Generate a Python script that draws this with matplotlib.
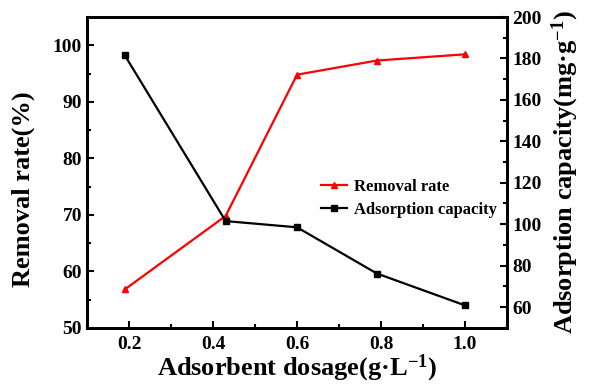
import matplotlib
matplotlib.use("Agg")
import matplotlib.pyplot as plt
from matplotlib.font_manager import FontProperties
from matplotlib.ticker import MultipleLocator

# adsorbent dosage (g/L)
dosage = [0.19, 0.43, 0.60, 0.79, 1.00]
removal_rate = [56.8, 69.8, 94.8, 97.3, 98.4]          # %
adsorption_capacity = [181.5, 101.5, 98.5, 76.2, 60.8]  # mg/g

plt.rcParams["font.family"] = ["Liberation Serif", "DejaVu Serif"]
plt.rcParams["font.weight"] = "bold"
plt.rcParams["axes.labelweight"] = "bold"
plt.rcParams["mathtext.fontset"] = "custom"
plt.rcParams["mathtext.rm"] = "Liberation Serif:bold"
plt.rcParams["mathtext.bf"] = "Liberation Serif:bold"
plt.rcParams["mathtext.default"] = "bf"

fig = plt.figure(figsize=(5.9, 3.87), dpi=100)
ax = fig.add_axes([0.1475, 0.153, 0.712, 0.803])
ax2 = ax.twinx()

l1, = ax.plot(dosage, removal_rate, color="#ff0000", lw=1.6, marker="^",
              markersize=5, label="Removal rate")
l2, = ax2.plot(dosage, adsorption_capacity, color="black", lw=1.6, marker="s",
               markersize=4.5, label="Adsorption capacity")

ax.set_xlim(0.1, 1.1)
ax.set_ylim(50, 105)
ax2.set_ylim(50, 200)

ax.set_xticks([0.2, 0.4, 0.6, 0.8, 1.0])
ax.xaxis.set_minor_locator(MultipleLocator(0.1))
ax.yaxis.set_major_locator(MultipleLocator(10))
ax.yaxis.set_minor_locator(MultipleLocator(5))
ax2.set_yticks([60, 80, 100, 120, 140, 160, 180, 200])
ax2.yaxis.set_minor_locator(MultipleLocator(10))

for a in (ax, ax2):
    for s in a.spines.values():
        s.set_linewidth(2)
    a.tick_params(which="both", direction="in", width=1.5, labelsize=14)
    a.tick_params(which="major", length=5)
    a.tick_params(which="minor", length=3)
ax.tick_params(axis="x", pad=6)

ax.set_xlabel("Adsorbent dosage(g·L$^{-1}$)", fontsize=19, fontweight="bold", labelpad=0)
ax.set_ylabel("Removal rate(%)", fontsize=19, fontweight="bold")
ax.yaxis.set_label_coords(-0.125, 0.447)
ax2.set_ylabel("Adsorption capacity(mg·g$^{-1}$)", fontsize=19, fontweight="bold", labelpad=6)

legend_font = FontProperties(family="Liberation Serif", weight="bold", size=12)
ax.legend(handles=[l1, l2], loc="upper left", bbox_to_anchor=(0.54, 0.5),
          frameon=False, prop=legend_font,
          handlelength=1.6, handletextpad=0.4, labelspacing=0.4, borderaxespad=0)

fig.savefig("out.png", dpi=100)
